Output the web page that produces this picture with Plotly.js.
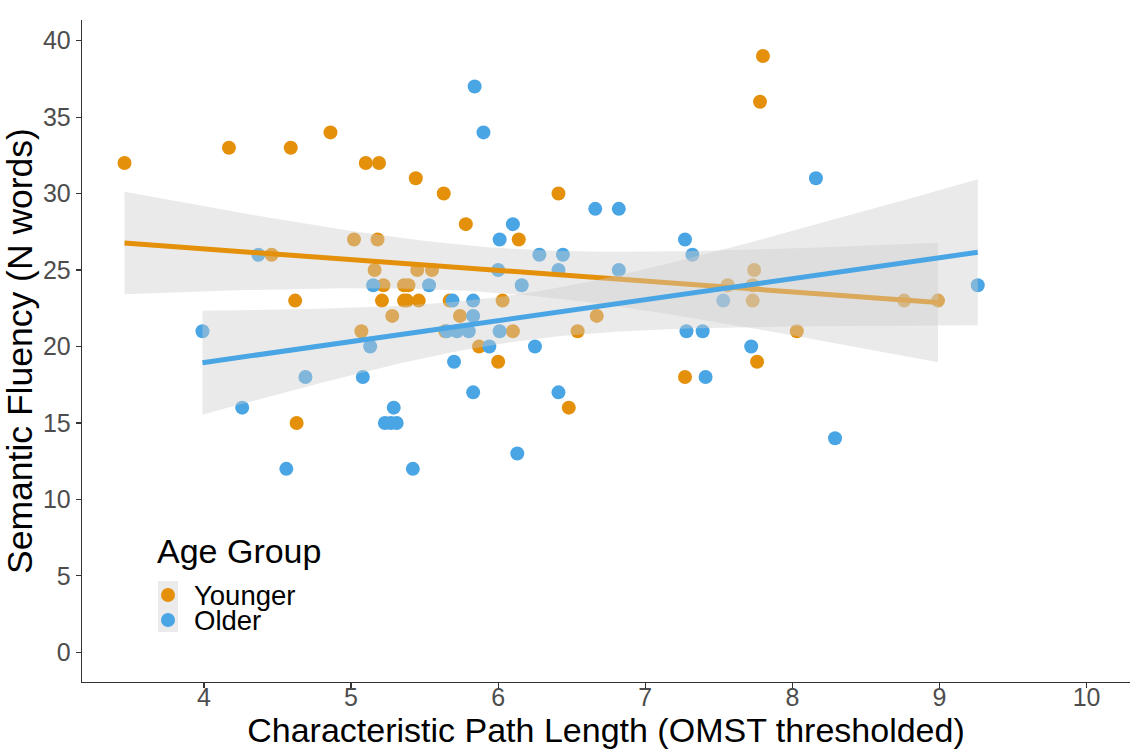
<!DOCTYPE html>
<html>
<head>
<meta charset="utf-8">
<script src="https://cdn.plot.ly/plotly-3.0.1.min.js"></script>
<style>
  html, body { margin: 0; padding: 0; background: #ffffff; }
  #chart { width: 1130px; height: 749px; }
</style>
</head>
<body>
<div id="chart"></div>
<script>
// Characteristic path length vs. semantic fluency, by age group
const groupNames = ["Younger", "Older"];
const groupColors = ["#E4900A", "#49A5E4"];

const youngerPathLength = [
  3.46, 4.17, 4.59, 4.86, 5.10, 5.19, 5.44, 5.63, 5.78, 6.41,
  6.14, 7.80, 7.78, 5.02, 5.18, 4.46, 5.16, 5.45, 5.55, 5.22,
  5.36, 5.39, 4.62, 5.21, 5.36, 5.38, 5.46, 5.67, 6.03, 5.28,
  5.74, 6.67, 5.07, 5.64, 6.10, 6.54, 5.87, 6.00, 6.48, 4.63,
  7.74, 7.56, 7.73, 7.73, 8.03, 7.76, 7.27, 8.76, 8.99
];
const youngerFluency = [
  32, 33, 33, 34, 32, 32, 31, 30, 28, 30,
  27, 39, 36, 27, 27, 26, 25, 25, 25, 24,
  24, 24, 23, 23, 23, 23, 23, 23, 23, 22,
  22, 22, 21, 21, 21, 21, 20, 19, 16, 15,
  25, 24, 24, 23, 21, 19, 18, 23, 23
];

const olderPathLength = [
  3.99, 4.26, 4.37, 4.56, 4.69, 5.08, 5.13, 5.15, 5.23, 5.27,
  5.31, 5.29, 5.42, 5.53, 5.65, 5.69, 5.70, 5.72, 5.80, 5.83,
  5.83, 5.83, 5.84, 5.90, 5.94, 6.00, 6.01, 6.01, 6.10, 6.13,
  6.16, 6.25, 6.28, 6.41, 6.41, 6.44, 6.66, 6.82, 6.82, 7.27,
  7.32, 7.28, 7.39, 7.41, 7.53, 7.72, 8.16, 8.29, 9.26
];
const olderFluency = [
  21, 16, 26, 12, 18, 18, 20, 24, 15, 15,
  15, 16, 12, 24, 21, 23, 19, 21, 21, 23,
  22, 17, 37, 34, 20, 25, 27, 21, 28, 13,
  24, 20, 26, 25, 17, 26, 29, 29, 25, 27,
  26, 21, 21, 18, 23, 20, 31, 14, 24
];

const xTicks = [4, 5, 6, 7, 8, 9, 10];
const yTicks = [0, 5, 10, 15, 20, 25, 30, 35, 40];

// Ordinary least squares fit with a 95% confidence band for the mean
function tQuantile975(df) {
  const z = 1.959964;
  return z + (Math.pow(z, 3) + z) / (4 * df) +
    (5 * Math.pow(z, 5) + 16 * Math.pow(z, 3) + 3 * z) / (96 * df * df);
}

function linearFit(xs, ys, steps) {
  const n = xs.length;
  const mx = xs.reduce((a, b) => a + b, 0) / n;
  const my = ys.reduce((a, b) => a + b, 0) / n;
  let sxx = 0, sxy = 0;
  for (let i = 0; i < n; i++) {
    sxx += (xs[i] - mx) * (xs[i] - mx);
    sxy += (xs[i] - mx) * (ys[i] - my);
  }
  const slope = sxy / sxx;
  const icpt = my - slope * mx;
  let sse = 0;
  for (let i = 0; i < n; i++) {
    const r = ys[i] - (icpt + slope * xs[i]);
    sse += r * r;
  }
  const s = Math.sqrt(sse / (n - 2));
  const t = tQuantile975(n - 2);
  const lo = Math.min(...xs), hi = Math.max(...xs);
  const gx = [], fit = [], upper = [], lower = [];
  for (let k = 0; k <= steps; k++) {
    const x = lo + (hi - lo) * k / steps;
    const f = icpt + slope * x;
    const se = s * Math.sqrt(1 / n + (x - mx) * (x - mx) / sxx);
    gx.push(x); fit.push(f); upper.push(f + t * se); lower.push(f - t * se);
  }
  return { gx, fit, upper, lower };
}

const groups = [
  { x: youngerPathLength, y: youngerFluency },
  { x: olderPathLength, y: olderFluency }
];

const traces = [];

// points first, so the smoothers sit on top of them
groups.forEach((g, i) => {
  traces.push({
    type: "scatter", mode: "markers",
    x: g.x, y: g.y, name: groupNames[i],
    marker: { color: groupColors[i], size: 14, line: { width: 0 } },
    showlegend: false,
    hovertemplate: groupNames[i] + ": %{x:.2f}, %{y}<extra></extra>"
  });
});

groups.forEach((g, i) => {
  const f = linearFit(g.x, g.y, 80);
  traces.push({
    type: "scatter", mode: "lines",
    x: f.gx.concat(f.gx.slice().reverse()),
    y: f.upper.concat(f.lower.slice().reverse()),
    fill: "toself", fillcolor: "rgba(204,204,204,0.42)",
    line: { width: 0 }, hoverinfo: "skip", showlegend: false
  });
  traces.push({
    type: "scatter", mode: "lines",
    x: f.gx, y: f.fit,
    line: { color: groupColors[i], width: 5 },
    hoverinfo: "skip", showlegend: false
  });
});

// plot-area geometry used to place the hand-drawn legend
const plotLeft = 82, plotRight = 1130, plotTop = 20, plotBottom = 682;
const px = v => (v - plotLeft) / (plotRight - plotLeft);
const py = v => (plotBottom - v) / (plotBottom - plotTop);
const keyR = 7;

const legendKeys = [595, 620];

const shapes = [
  {
    type: "rect", xref: "paper", yref: "paper",
    x0: px(158), x1: px(178), y0: py(632), y1: py(581),
    fillcolor: "#EBEBEB", line: { width: 0 }, layer: "below"
  }
];
legendKeys.forEach((cy, i) => {
  shapes.push({
    type: "circle", xref: "paper", yref: "paper",
    x0: px(168 - keyR), x1: px(168 + keyR), y0: py(cy + keyR), y1: py(cy - keyR),
    fillcolor: groupColors[i], line: { width: 0 }
  });
});

const font = "Liberation Sans, Arial, Helvetica, sans-serif";

const annotations = [
  {
    text: "Age Group", xref: "paper", yref: "paper",
    x: px(155), y: py(551), xanchor: "left", yanchor: "middle",
    showarrow: false, font: { family: font, size: 34, color: "#000000" }
  }
];
legendKeys.forEach((cy, i) => {
  annotations.push({
    text: groupNames[i], xref: "paper", yref: "paper",
    x: px(193), y: py(cy), xanchor: "left", yanchor: "middle",
    borderpad: 0,
    showarrow: false, font: { family: font, size: 27.5, color: "#000000" }
  });
});

const axisCommon = {
  showgrid: false, zeroline: false,
  showline: true, linecolor: "#333333", linewidth: 1.3,
  ticks: "outside", ticklen: 5, tickwidth: 1.2, tickcolor: "#333333",
  tickfont: { family: font, size: 25, color: "#4D4D4D" },
  automargin: false
};

const layout = {
  width: 1130, height: 749,
  margin: { l: plotLeft, r: 1130 - plotRight, t: plotTop, b: 749 - plotBottom },
  paper_bgcolor: "#ffffff", plot_bgcolor: "#ffffff",
  showlegend: false,
  font: { family: font },
  xaxis: Object.assign({}, axisCommon, {
    range: [3.171, 10.295],
    tickmode: "array", tickvals: xTicks, ticktext: xTicks.map(String),
    ticklabelstandoff: -12,
    title: { text: "Characteristic Path Length (OMST thresholded)",
             font: { family: font, size: 34, color: "#000000" }, standoff: 6 }
  }),
  yaxis: Object.assign({}, axisCommon, {
    range: [-1.94, 41.35],
    tickmode: "array", tickvals: yTicks, ticktext: yTicks.map(String),
    title: { text: "Semantic Fluency (N words)",
             font: { family: font, size: 35.5, color: "#000000" }, standoff: 3 }
  }),
  shapes: shapes,
  annotations: annotations
};

Plotly.newPlot("chart", traces, layout, { displayModeBar: false, staticPlot: true });
</script>
</body>
</html>
